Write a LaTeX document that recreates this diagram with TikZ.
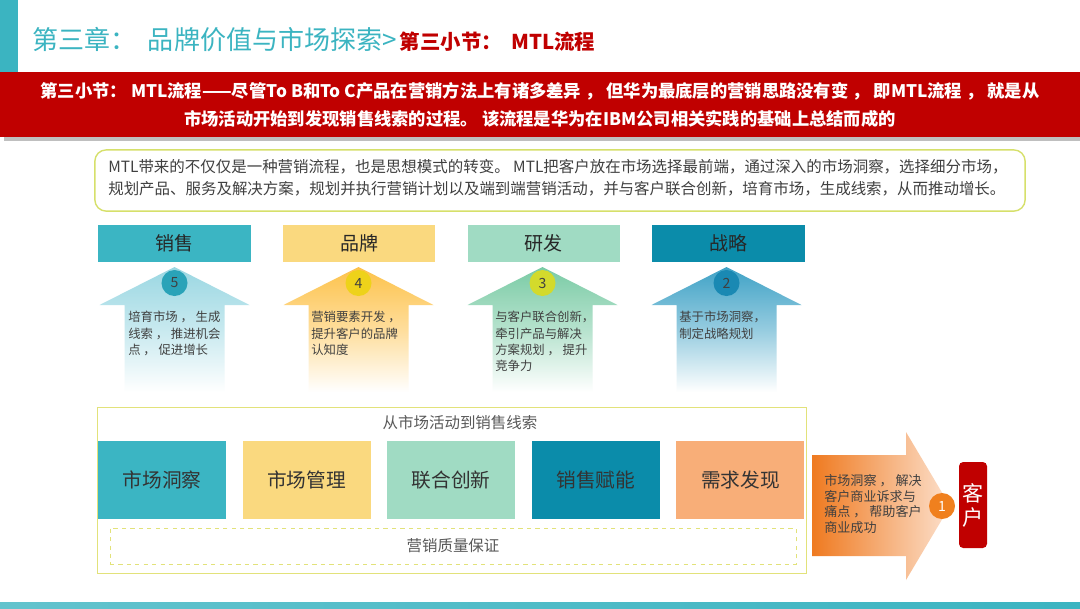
\documentclass[tikz,border=0pt]{standalone}
\usepackage{fontspec}
\setmainfont{Noto Sans CJK SC}
\usetikzlibrary{positioning,shadows}

\definecolor{mtlred}{HTML}{C00000}
\definecolor{mtlteal}{HTML}{3BB4C1}
\definecolor{txtgray}{HTML}{404040}
\definecolor{introline}{HTML}{D6E06A}
\definecolor{flowline}{HTML}{E2E27A}
\definecolor{salesc}{HTML}{3BB5C3}
\definecolor{brandc}{HTML}{FAD97F}
\definecolor{rndc}{HTML}{A0DBC3}
\definecolor{stratc}{HTML}{0B8CAA}
\definecolor{demandc}{HTML}{F8AE78}
\definecolor{arrsales}{HTML}{9AD7E2}
\definecolor{arrbrand}{HTML}{FDC24A}
\definecolor{arrrnd}{HTML}{7ACBA5}
\definecolor{arrstrat}{HTML}{3FA2C6}
\definecolor{dotsales}{HTML}{2AA3B8}
\definecolor{dotbrand}{HTML}{EED21A}
\definecolor{dotrnd}{HTML}{D3DA2C}
\definecolor{dotstrat}{HTML}{1A89B3}
\definecolor{dotcust}{HTML}{F0801E}
\definecolor{custorange}{HTML}{EF7A20}
\definecolor{custpeach}{HTML}{FCE0CC}

\begin{document}
\begin{tikzpicture}[x=0.025cm,y=-0.025cm]
\tikzset{
headbox/.style={rectangle, minimum width=3.81cm, minimum height=0.93cm, inner sep=0pt, text=black!85,
font=\fontsize{13.5}{16}\selectfont},
stagebox/.style={rectangle, minimum width=3.2cm, minimum height=1.93cm, inner sep=0pt, text=black!80,
font=\fontsize{14}{17}\selectfont},
numdot/.style={circle, minimum size=0.65cm, inner sep=0pt, text=black!75, font=\fontsize{10}{12}\selectfont},
arrtext/.style={anchor=north west, align=left, inner sep=0pt, text=txtgray, font=\fontsize{8.8}{11.6}\selectfont},
uparrow/.style={top color=#1, bottom color=white, middle color=#1!55},
graytext/.style={text=black!65, font=\fontsize{11}{13}\selectfont},
}
\useasboundingbox (0,0) rectangle (1080,608);
\fill[white] (0,0) rectangle (1080,608);

\fill[mtlteal] (0,0) rectangle (18,72);
\node[anchor=west, inner sep=0pt, text=mtlteal, font=\fontsize{18.5}{22}\selectfont] (chapter) at (32,40)
{第三章：\ \ 品牌价值与市场探索>};
\node[anchor=base west, inner sep=0pt, text=mtlred, font=\bfseries\fontsize{14.5}{17}\selectfont] (section)
at ([xshift=2pt]chapter.base east) {第三小节：\ \ MTL流程};

\node[rectangle, fill=mtlred, drop shadow, minimum width=27cm, minimum height=1.63cm, text=white, align=center,
font=\bfseries\fontsize{12.3}{19.9}\selectfont] (band) at (540,104.5)
{第三小节： MTL流程——尽管To B和To C产品在营销方法上有诸多差异 ， 但华为最底层的营销思路没有变 ， 即MTL流程 ， 就是从\\
市场活动开始到发现销售线索的过程。 该流程是华为在IBM公司相关实践的基础上总结而成的};

\node[draw=introline, line width=1pt, rounded corners=8pt, fill=white, minimum width=23.25cm, minimum height=1.53cm]
(intro) at (560,180.5) {};
\node[anchor=west, align=left, inner sep=0pt, text=txtgray, font=\fontsize{11}{15.6}\selectfont] (introtext) at (108,178)
{MTL带来的不仅仅是一种营销流程，也是思想模式的转变。 MTL把客户放在市场选择最前端，通过深入的市场洞察，选择细分市场，\\
规划产品、服务及解决方案，规划并执行营销计划以及端到端营销活动，并与客户联合创新，培育市场，生成线索，从而推动增长。};

\node[headbox, fill=salesc] (sales) at (174.5,243.5) {销售};
\node[headbox, fill=brandc, right=0.79cm of sales] (brand) {品牌};
\node[headbox, fill=rndc, right=0.79cm of brand] (rnd) {研发};
\node[headbox, fill=stratc, right=0.79cm of rnd] (strategy) {战略};

\shade[uparrow=arrsales] (174.5,267) -- (249.5,305) -- (224.5,305) -- (224.5,392) -- (124.5,392) -- (124.5,305) -- (99.5,305) -- cycle;
\shade[uparrow=arrbrand] (358.5,267) -- (433.5,305) -- (408.5,305) -- (408.5,392) -- (308.5,392) -- (308.5,305) -- (283.5,305) -- cycle;
\shade[uparrow=arrrnd] (542.5,267) -- (617.5,305) -- (592.5,305) -- (592.5,392) -- (492.5,392) -- (492.5,305) -- (467.5,305) -- cycle;
\shade[uparrow=arrstrat] (726.5,267) -- (801.5,305) -- (776.5,305) -- (776.5,392) -- (676.5,392) -- (676.5,305) -- (651.5,305) -- cycle;

\node[numdot, fill=dotsales] (n5) at (174.5,283) {5};
\node[numdot, fill=dotbrand] (n4) at (358.5,283) {4};
\node[numdot, fill=dotrnd] (n3) at (542.5,283) {3};
\node[numdot, fill=dotstrat] (n2) at (726.5,283) {2};

\node[arrtext] (salestext) at (128,311) {培育市场 ， 生成\\线索 ， 推进机会\\点 ， 促进增长};
\node[arrtext] (brandtext) at (311,311) {营销要素开发 ，\\提升客户的品牌\\认知度};
\node[arrtext] (rndtext) at (495,311) {与客户联合创新，\\牵引产品与解决\\方案规划 ， 提升\\竞争力};
\node[arrtext] (strattext) at (679,311) {基于市场洞察，\\制定战略规划};

\node[draw=flowline, minimum width=17.73cm, minimum height=4.15cm] (flowbox) at (451.5,490) {};
\node[graytext] (flowtitle) at (460,423) {从市场活动到销售线索};
\node[stagebox, fill=salesc] (insight) at (162,480) {市场洞察};
\node[stagebox, fill=brandc, right=0.4cm of insight] (manage) {市场管理};
\node[stagebox, fill=rndc, right=0.4cm of manage] (cocreate) {联合创新};
\node[stagebox, fill=stratc, right=0.4cm of cocreate] (enable) {销售赋能};
\node[stagebox, fill=demandc, right=0.4cm of enable] (demand) {需求发现};
\node[draw=flowline, dashed, graytext, minimum width=17.15cm, minimum height=0.9cm] (quality) at (453,546) {营销质量保证};

\shade[left color=custorange, right color=custpeach] (812,455) -- (906,455) -- (906,432) -- (950,506) -- (906,580) -- (906,556) -- (812,556) -- cycle;
\node[arrtext, font=\fontsize{9.3}{11.2}\selectfont] (custtext) at (824,474)
{市场洞察 ， 解决\\客户商业诉求与\\痛点 ， 帮助客户\\商业成功};
\node[numdot, fill=dotcust, text=white] (n1) at (942,506) {1};
\node[rectangle, rounded corners=3pt, fill=mtlred, minimum width=0.7cm, minimum height=2.15cm, inner sep=0pt,
text=white, align=center, font=\fontsize{15}{17}\selectfont] (customer) at (973,505) {客\\户};

\shade[left color=mtlteal!80, right color=mtlteal] (0,602) rectangle (1080,608);
\end{tikzpicture}
\end{document}
